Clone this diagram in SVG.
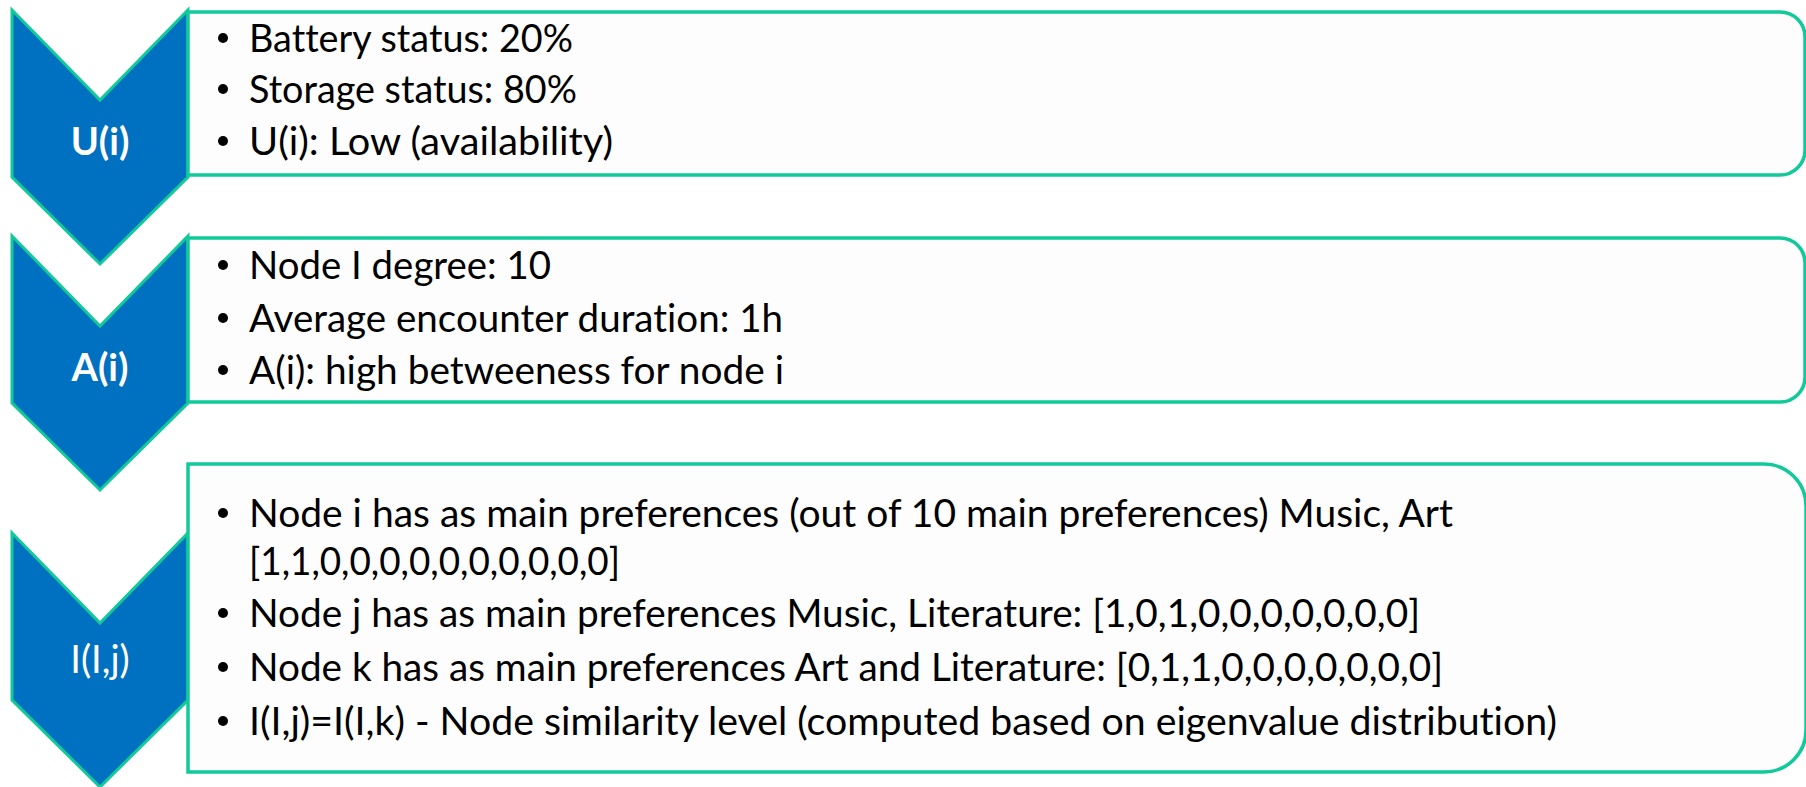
<svg xmlns="http://www.w3.org/2000/svg" width="1806" height="787" viewBox="0 0 1806 787">
<style>
.chev{fill:#0070C0;stroke:#12C99A;stroke-width:3;stroke-linejoin:miter}
.box{fill:#FDFDFD;stroke:#12C99A;stroke-width:3.5}
.lbl{font-family:Lato,"Open Sans","DejaVu Sans",sans-serif;font-size:38px;fill:#FFFFFF;text-anchor:middle}
.b{font-weight:bold}
.t{font-family:Lato,"Open Sans","DejaVu Sans",sans-serif;font-size:38px;fill:#000000;font-variant-ligatures:none;font-feature-settings:"liga" 0,"clig" 0}
.bul{fill:#000000}
</style>
<rect width="1806" height="787" fill="#FFFFFF"/>
<g id="connectors"></g>

<g id="node-U">
<polygon class="chev" points="12,10 100,100 188,10 188,177 100,264 12,177"/>
<path class="box" d="M188,12 H1780 A25,25 0 0 1 1805,37 V150 A25,25 0 0 1 1780,175 H188 Z"/>
<text class="lbl b" x="100" y="155">U(i)</text>
<circle class="bul" cx="223" cy="38" r="5"/>
<circle class="bul" cx="223" cy="89" r="5"/>
<circle class="bul" cx="223" cy="141" r="5"/>
<text class="t" x="249" y="52" textLength="324" lengthAdjust="spacingAndGlyphs">Battery status: 20%</text>
<text class="t" x="249" y="103" textLength="328" lengthAdjust="spacingAndGlyphs">Storage status: 80%</text>
<text class="t" x="249" y="155" textLength="364" lengthAdjust="spacingAndGlyphs">U(i): Low (availability)</text>
</g>

<g id="node-A">
<polygon class="chev" points="12,236 100,326 188,236 188,403 100,490 12,403"/>
<path class="box" d="M188,238 H1780 A25,25 0 0 1 1805,263 V377 A25,25 0 0 1 1780,402 H188 Z"/>
<text class="lbl b" x="100" y="381">A(i)</text>
<circle class="bul" cx="223" cy="265" r="5"/>
<circle class="bul" cx="223" cy="318" r="5"/>
<circle class="bul" cx="223" cy="370" r="5"/>
<text class="t" x="249" y="279" textLength="302" lengthAdjust="spacingAndGlyphs">Node I degree: 10</text>
<text class="t" x="249" y="332" textLength="534" lengthAdjust="spacingAndGlyphs">Average encounter duration: 1h</text>
<text class="t" x="249" y="384" textLength="535" lengthAdjust="spacingAndGlyphs">A(i): high betweeness for node i</text>
</g>

<g id="node-I">
<polygon class="chev" points="12,533 100,623 188,533 188,700 100,787 12,700"/>
<path class="box" d="M188,464 H1764 A42,42 0 0 1 1806,506 V730 A42,42 0 0 1 1764,772 H188 Z"/>
<text class="lbl" x="100" y="673">I(I,j)</text>
<circle class="bul" cx="223" cy="513" r="5"/>
<circle class="bul" cx="223" cy="613" r="5"/>
<circle class="bul" cx="223" cy="667" r="5"/>
<circle class="bul" cx="223" cy="721" r="5"/>
<text class="t" x="249" y="527" textLength="1204" lengthAdjust="spacingAndGlyphs">Node i has as main preferences (out of 10 main preferences) Music, Art</text>
<text class="t" x="249" y="575" textLength="371" lengthAdjust="spacingAndGlyphs">[1,1,0,0,0,0,0,0,0,0,0,0]</text>
<text class="t" x="249" y="627" textLength="1171" lengthAdjust="spacingAndGlyphs">Node j has as main preferences Music, Literature: [1,0,1,0,0,0,0,0,0,0]</text>
<text class="t" x="249" y="681" textLength="1194" lengthAdjust="spacingAndGlyphs">Node k has as main preferences Art and Literature: [0,1,1,0,0,0,0,0,0,0]</text>
<text class="t" x="249" y="735" textLength="1308" lengthAdjust="spacingAndGlyphs">I(I,j)=I(I,k) - Node similarity level (computed based on eigenvalue distribution)</text>
</g>
</svg>
